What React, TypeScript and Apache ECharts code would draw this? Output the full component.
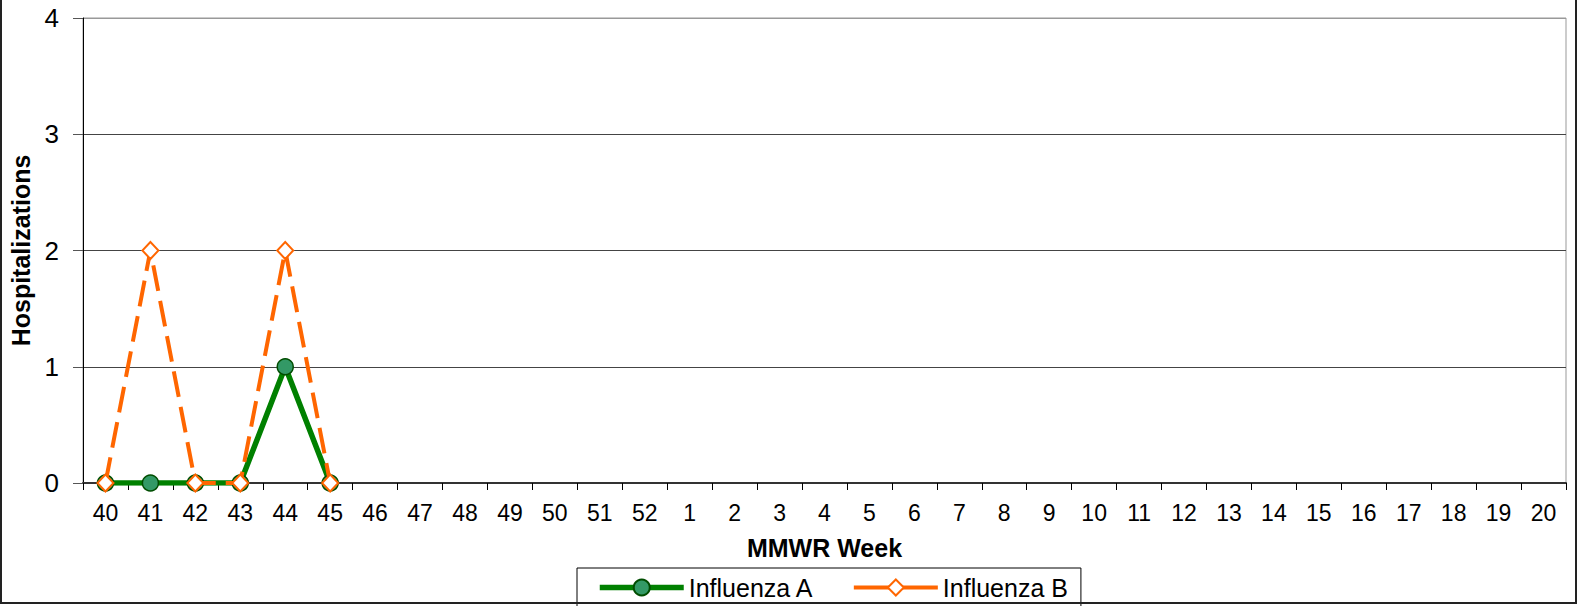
import React, { useEffect, useRef } from "react";
import * as echarts from "echarts";

const weeks = ["40","41","42","43","44","45","46","47","48","49","50","51","52","1","2","3","4","5","6","7","8","9","10","11","12","13","14","15","16","17","18","19","20"];
const fluA: (number | null)[] = [0, 0, 0, 0, 1, 0];
const fluB: (number | null)[] = [0, 2, 0, 0, 2, 0];
const yTicks = [0, 1, 2, 3, 4];

const FONT = "'Liberation Sans', Arial, sans-serif";

export default function App() {
  const ref = useRef<HTMLDivElement>(null);
  useEffect(() => {
    if (!ref.current) return;
    const chart = echarts.init(ref.current, undefined, { renderer: "svg" });
    chart.setOption({
      animation: false,
      backgroundColor: "#fff",
      textStyle: { fontFamily: FONT },
      grid: {
        left: 82, top: 18, right: 12, bottom: 123,
        show: true, borderColor: "#999", borderWidth: 1, backgroundColor: "transparent",
      },
      xAxis: {
        type: "category",
        data: weeks,
        boundaryGap: true,
        name: "MMWR Week",
        nameLocation: "middle",
        nameGap: 52,
        nameTextStyle: { fontFamily: FONT, fontSize: 25, fontWeight: "bold", color: "#000" },
        axisLine: { show: true, lineStyle: { color: "#333", width: 2 } },
        axisTick: { show: true, interval: 0, length: 7, lineStyle: { color: "#000" } },
        axisLabel: { interval: 0, fontFamily: FONT, fontSize: 23, color: "#000", margin: 18 },
        splitLine: { show: false },
      },
      yAxis: {
        type: "value",
        min: yTicks[0],
        max: yTicks[yTicks.length - 1],
        interval: 1,
        name: "Hospitalizations",
        nameLocation: "middle",
        nameGap: 50,
        nameRotate: 90,
        nameTextStyle: { fontFamily: FONT, fontSize: 25, fontWeight: "bold", color: "#000" },
        axisLine: { show: true, lineStyle: { color: "#000", width: 1 } },
        axisTick: { show: true, length: 10, lineStyle: { color: "#555" } },
        axisLabel: { fontFamily: FONT, fontSize: 26, color: "#000", margin: 24 },
        splitLine: { show: true, lineStyle: { color: ["#444", "#444", "#444", "#444", "#999"], width: 1 } },
      },
      legend: {
        show: true,
        left: 577,
        top: 568,
        orient: "horizontal",
        borderColor: "#000",
        borderWidth: 1,
        padding: [7, 13, 14, 20],
        itemGap: 38,
        itemWidth: 84,
        itemHeight: 20,
        textStyle: { fontFamily: FONT, fontSize: 25, color: "#000" },
        data: [
          { name: "Influenza A", lineStyle: { width: 5.5, color: "#008000" } },
          { name: "Influenza B", lineStyle: { width: 4, color: "#FF6600", type: "solid" } },
        ],
      },
      series: [
        {
          name: "Influenza A",
          type: "line",
          data: fluA,
          symbol: "circle",
          symbolSize: 16,
          showAllSymbol: true,
          lineStyle: { color: "#008000", width: 5.5 },
          itemStyle: { color: "#339966", borderColor: "#004d00", borderWidth: 1.5 },
          z: 2,
        },
        {
          name: "Influenza B",
          type: "line",
          data: fluB,
          symbol: "diamond",
          symbolSize: [16, 17],
          showAllSymbol: true,
          lineStyle: { color: "#FF6600", width: 4, type: [26, 10] },
          itemStyle: { color: "#fff", borderColor: "#FF6600", borderWidth: 2 },
          z: 3,
        },
      ],
      graphic: [
        {
          type: "rect",
          shape: { x: 1, y: -5, width: 1575, height: 608 },
          style: { fill: "none", stroke: "#222", lineWidth: 2 },
          silent: true,
          z: 100,
        },
      ],
    });
    return () => chart.dispose();
  }, []);
  return (
    <div
      ref={ref}
      style={{ position: "fixed", left: 0, top: 0, width: 1578, height: 606 }}
    />
  );
}
